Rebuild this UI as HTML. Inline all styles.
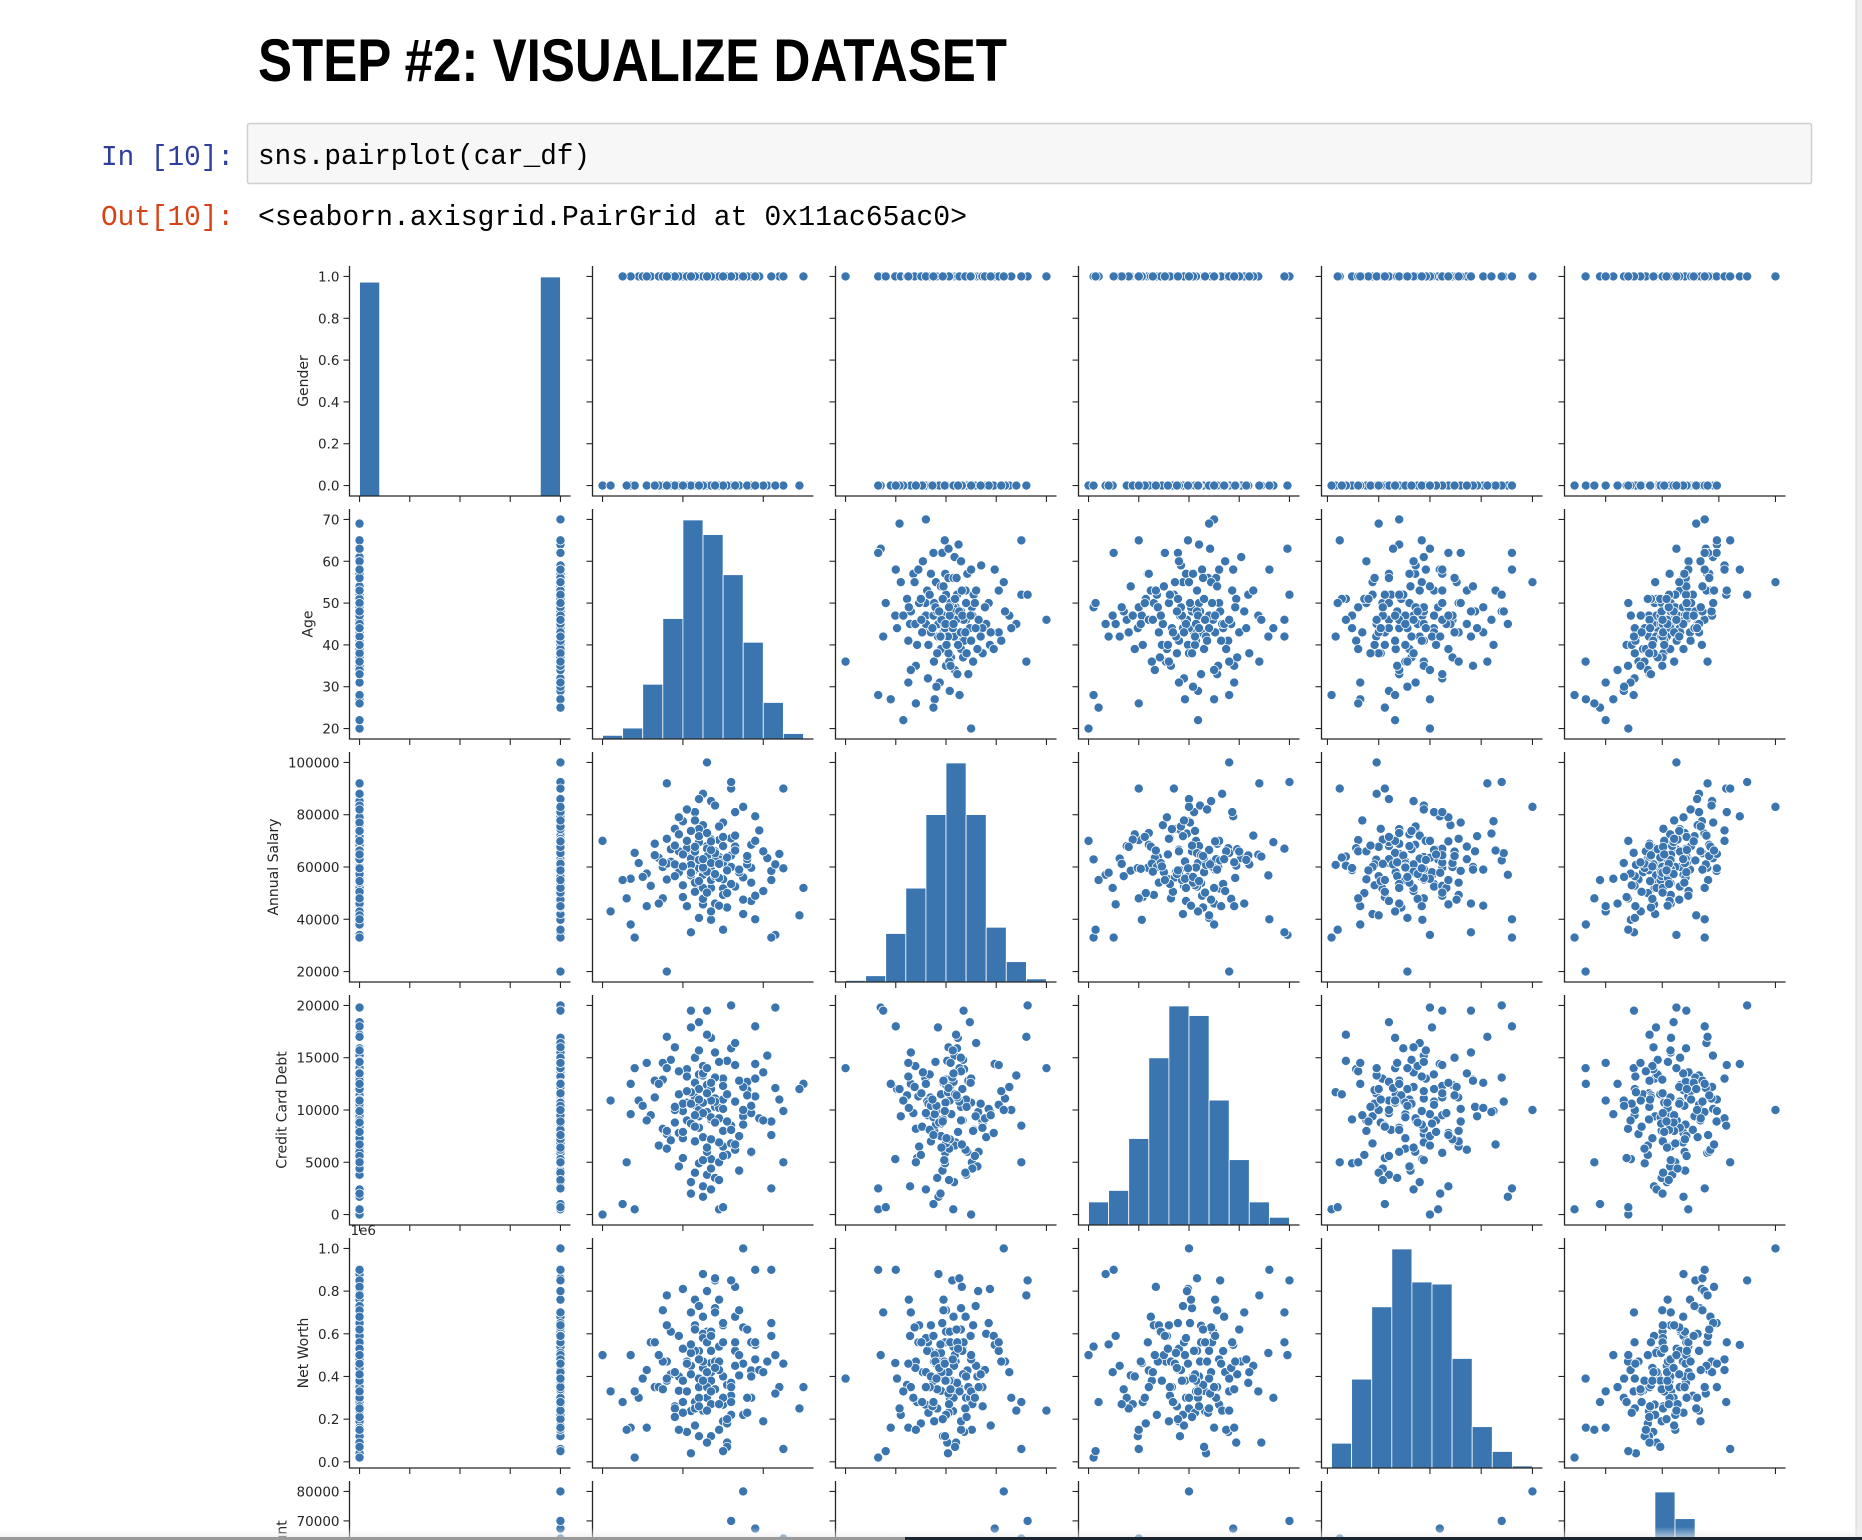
<!DOCTYPE html>
<html><head><meta charset="utf-8"><title>Pairplot</title>
<style>
html,body{margin:0;padding:0;background:#fff;width:1862px;height:1540px;overflow:hidden}
svg{display:block;overflow:hidden}
</style></head>
<body>
<svg id="root" width="1862" height="1540" viewBox="0 0 1862 1540" xmlns="http://www.w3.org/2000/svg">
<defs><linearGradient id="fade" x1="0" y1="0" x2="0" y2="1"><stop offset="0" stop-color="#ffffff" stop-opacity="0"/><stop offset="1" stop-color="#e9e9e9" stop-opacity="0.6"/></linearGradient></defs>
<text x="258" y="81" font-family="'Liberation Sans',sans-serif" font-weight="bold" font-size="60" textLength="749" lengthAdjust="spacingAndGlyphs" fill="#000">STEP #2: VISUALIZE DATASET</text>
<text x="101" y="165" font-family="'Liberation Mono',monospace" font-size="29" textLength="133" lengthAdjust="spacingAndGlyphs" fill="#303f9f">In [10]:</text>
<rect x="247.5" y="123.5" width="1564" height="60" rx="2" fill="#f7f7f7" stroke="#cfcfcf" stroke-width="1.5"/>
<text x="258" y="164" font-family="'Liberation Mono',monospace" font-size="29" textLength="332" lengthAdjust="spacingAndGlyphs" fill="#000">sns.pairplot(car_df)</text>
<text x="101" y="225" font-family="'Liberation Mono',monospace" font-size="29" textLength="133" lengthAdjust="spacingAndGlyphs" fill="#d84315">Out[10]:</text>
<text x="258" y="225" font-family="'Liberation Mono',monospace" font-size="29" textLength="709" lengthAdjust="spacingAndGlyphs" fill="#000">&lt;seaborn.axisgrid.PairGrid at 0x11ac65ac0&gt;</text>
<g id="grid"></g>
<rect x="1856" y="0" width="6" height="1540" fill="#ececec"/>
<line x1="1856" y1="0" x2="1856" y2="1540" stroke="#d5d5d5" stroke-width="1"/>
<rect x="0" y="1527" width="1862" height="10" fill="url(#fade)"/>
<rect x="0" y="1537" width="905" height="3" fill="#9a9a9a"/>
<rect x="905" y="1537" width="957" height="3" fill="#1c2630"/>
</svg>
<script>
const varNames = ['Gender','Age','Annual Salary','Credit Card Debt','Net Worth','Car Purchase Amount'];
const gender = [0,0,1,1,1,0,1,1,0,0,
1,0,1,0,1,0,1,0,1,0, 1,0,1,0,1,0,1,0,1,0, 1,0,1,0,1,0,1,0,1,0, 1,0,1,0,1,0,1,0,1,0,
1,0,1,0,1,0,1,0,1,0, 1,0,1,0,1,0,1,0,1,0, 1,0,1,0,1,0,1,0,1,0, 1,0,1,0,1,0,1,0,1,0,
1,0,1,0,1,0,1,0,1,0, 1,0,1,0,1,0,1,0,1,0, 1,0,1,0,1,0,1,0,1,0, 1,0,1,0,1,0,1,0,1,0,
1,0,1,0,1,0,1,0,1,0, 1,0,1,0,1,0,1,0,1,0,
1,0,1,1,1,0,1,0,0,1, 0,1,0,1,0,1,0,1,0,1];
const age = [42,41,43,58,57,57,47,50,39,44, 46,52,36,48,54,33,45,61,38,50, 29,47,55,42,49,40,64,51,35,46,
43,53,47,37,59,44,52,45,41,49, 32,56,48,39,43,50,46,28,53,47, 42,60,38,45,51,44,49,35,55,40,
46,52,43,48,37,57,44,50,41,47, 62,45,34,49,53,42,47,39,56,31, 46,51,44,48,40,54,43,47,58,36,
45,50,42,63,27,46,48,41,52,44, 39,57,47,34,50,45,53,43,48,60, 38,46,55,42,44,49,36,51,45,40,
58,47,43,54,49,33,46,44,52,38, 62,47,41,50,45,56,43,48,35,53, 46,42,49,65,30,45,51,40,47,44,
55,20,70,46,36,22,25,69,27,31, 63,52,28,42,58,65,36,62,26,50];
const salaryK = [62.8,66.6,53.8,79.4,59.7,68.5,39.8,51.8,58.0,53.5, 62.1,71.0,55.2,66.0,58.6,68.9,45.7,63.4,74.6,49.3,
61.5,85.2,42.0,56.8,70.3,77.5,65.0,60.5,48.0,68.0, 59.0,52.5,64.7,62.0,74.0,40.5,90.0,57.0,67.2,63.8,
52.8,61.0,46.0,72.5,81.0,55.3,60.0,65.4,67.8,58.8, 63.2,50.8,56.5,76.0,44.5,69.5,62.9,60.0,56.0,48.5,
72.8,64.4,54.0,83.5,66.8,47.0,59.6,61.7,70.0,52.0, 58.5,88.0,63.5,45.2,72.0,60.8,55.0,79.0,63.0,57.5,
67.0,50.0,74.5,62.5,53.0,58.0,65.9,70.5,49.0,61.3, 47.8,77.0,58.0,61.0,55.5,64.0,56.5,82.0,60.0,71.8,
66.0,54.0,61.5,46.0,68.0,59.3,81.0,50.5,65.3,66.0, 61.0,73.0,47.5,57.8,86.0,55.8,70.8,63.6,52.0,60.2,
70.0,43.0,67.7,59.0,75.5,64.5,58.2,62.7,53.5,68.2, 55.0,66.5,45.0,71.5,59.8,64.2,77.8,57.3,61.8,66.3,
50.2,73.8,61.2,59.5,56.2,63.0,58.7,64.8,69.8,54.6, 83.0,70.0,52.0,100.0,20.0,43.0,55.0,41.5,38.0,45.0,
34.0,92.5,33.0,35.0,40.0,90.0,92.0,33.0,48.0,36.0];
const debtK = [11.6,9.0,11.2,14.4,5.9,6.0,5.3,13.0,11.5,13.4, 9.6,8.1,7.7,10.3,4.2,12.8,2.7,15.2,8.8,6.5,
10.9,12.2,9.4,17.9,5.0,9.9,11.0,14.7,8.2,3.8, 12.6,10.8,16.9,7.1,9.2,12.0,8.5,1.7,13.9,6.9,
9.5,11.9,15.5,4.6,10.5,8.0,12.4,14.0,6.2,9.1, 3.1,13.6,10.0,7.4,11.4,18.4,0.5,12.9,8.6,5.4,
9.8,15.9,7.0,11.1,14.8,9.7,4.9,12.3,10.7,2.4, 8.9,13.3,6.6,10.2,16.4,11.7,9.3,7.8,12.7,9.0,
19.5,5.7,8.3,13.1,10.6,7.5,15.0,4.4,11.3,6.3, 14.2,10.1,8.7,12.1,9.6,17.2,3.5,11.8,6.8,9.4,
13.7,10.4,7.2,12.5,11.0,5.2,14.3,8.4,10.8,9.0, 16.0,6.0,12.2,2.0,10.0,14.6,8.0,11.5,9.7,7.3,
13.0,10.9,4.0,12.8,9.2,11.2,6.4,15.7,8.1,10.3, 7.6,12.0,13.2,5.6,10.7,11.4,9.5,8.8,14.5,6.7,
11.6,10.6,3.3,9.9,10.4,13.5,8.9,7.9,12.6,11.0, 10.0,0.0,12.5,14.0,14.0,10.9,1.0,12.0,12.5,14.5,
19.8,20.0,0.5,19.5,18.0,5.0,17.0,2.5,5.0,0.7];
const netWorthK = [238,530,638,548,560,428,463,268,333,519, 380,310,470,720,405,350,590,470,260,640,
300,420,220,510,150,810,350,90,470,300, 760,520,330,610,430,390,280,880,140,470,
560,230,700,400,520,190,610,330,680,120, 450,420,250,600,360,300,540,710,460,280,
800,370,640,470,410,300,120,560,330,420, 650,240,500,760,450,40,380,590,300,430,
560,180,350,850,230,500,620,270,560,380, 440,650,510,320,500,90,340,470,220,730,
150,400,610,350,400,470,560,280,860,190, 420,350,630,550,300,470,640,70,580,380,
480,330,250,710,430,560,420,480,350,210, 590,520,460,300,380,620,170,440,340,820,
560,410,270,460,390,680,200,530,590,260, 1000,500,350,240,390,330,280,250,160,160,
500,850,20,700,900,60,780,900,150,50];
const carK = [35.3,45.1,42.9,67.4,55.9,56.6,28.9,37.3,33.2,38.3, 42.5,50.8,31.6,53.3,48.1,35.5,37.1,57.9,40.4,43.0,
26.4,57.6,37.5,37.8,44.6,54.0,59.3,38.0,27.9,43.5, 49.8,46.2,43.1,40.1,62.0,30.3,62.6,47.5,36.8,47.3,
30.2,47.5,43.0,42.8,53.0,39.8,46.4,29.9,57.0,35.3, 41.6,49.3,30.3,52.5,36.0,44.0,49.2,40.0,48.2,27.4,
54.9,48.4,40.2,57.4,38.4,42.6,33.8,48.7,40.7,38.0, 59.2,53.0,34.9,41.9,55.6,30.7,39.4,47.5,48.3,28.8,
48.5,34.9,46.2,51.7,29.2,48.5,46.3,45.4,49.2,33.7, 36.5,58.0,39.6,55.4,22.7,35.5,39.8,50.0,44.6,51.4,
34.2,47.8,48.0,24.2,50.2,43.0,62.8,32.7,54.2,53.5, 36.9,47.9,46.0,40.1,52.3,42.0,44.2,39.3,40.2,36.5,
62.0,32.4,40.3,54.2,53.6,36.0,41.7,42.9,42.4,35.4, 56.2,48.7,30.5,48.6,41.8,56.6,44.2,44.0,32.3,58.3,
40.1,46.0,42.3,59.3,26.5,47.4,41.5,40.7,51.1,35.7, 80.0,28.0,55.0,45.0,12.9,20.0,18.0,52.0,13.0,20.0,
45.0,70.0,9.0,30.0,55.0,64.0,56.0,55.0,16.0,28.0];
const genderHist = [247,0,0,0,0,0,0,0,0,253];
const ageHist = [2,6,30,66,120,112,90,53,20,3];
const salaryHist = [1,4,31,60,107,140,107,35,13,2];
const debtHist = [12,18,45,87,114,109,65,34,12,4];
const netWorthHist = [12,43,78,106,90,89,53,20,8,1];
const carHist = [4,20,60,90,123,108,60,25,8,2];
const genderTicksY = [0,0.2,0.4,0.6,0.8,1.0];
const genderLabelsY = ['0.0','0.2','0.4','0.6','0.8','1.0'];
const ageTicksY = [20,30,40,50,60,70];
const ageLabelsY = ['20','30','40','50','60','70'];
const salaryTicksY = [20000,40000,60000,80000,100000];
const salaryLabelsY = ['20000','40000','60000','80000','100000'];
const debtTicksY = [0,5000,10000,15000,20000];
const debtLabelsY = ['0','5000','10000','15000','20000'];
const netWorthTicksY = [0,200000,400000,600000,800000,1000000];
const netWorthLabelsY = ['0.0','0.2','0.4','0.6','0.8','1.0'];
const carTicksY = [10000,20000,30000,40000,50000,60000,70000,80000];
const carLabelsY = ['10000','20000','30000','40000','50000','60000','70000','80000'];
const genderTicksX = [0,0.25,0.5,0.75,1];
const ageTicksX = [20,40,60];
const salaryTicksX = [20000,40000,60000,80000,100000];
const debtTicksX = [0,5000,10000,15000,20000];
const netWorthTicksX = [0,250000,500000,750000,1000000];
const carTicksX = [20000,40000,60000,80000];

(function(){
  const NS='http://www.w3.org/2000/svg';
  const grid=document.getElementById('grid');
  const units=[1,1,1000,1000,1000,1000];
  const raw=[gender,age,salaryK,debtK,netWorthK,carK];
  const cols=raw.map((a,k)=>a.map(v=>v*units[k]));
  const hists=[genderHist,ageHist,salaryHist,debtHist,netWorthHist,carHist];
  const ticksY=[genderTicksY,ageTicksY,salaryTicksY,debtTicksY,netWorthTicksY,carTicksY];
  const labelsY=[genderLabelsY,ageLabelsY,salaryLabelsY,debtLabelsY,netWorthLabelsY,carLabelsY];
  const ticksX=[genderTicksX,ageTicksX,salaryTicksX,debtTicksX,netWorthTicksX,carTicksX];
  const C='#3a75af', AX='#262626', FONT="'DejaVu Sans','Liberation Sans',sans-serif";
  const X0=349.5, Y0=266, STEP=243, W=221, H=230;
  const lims=cols.map(a=>{let mn=Math.min(...a),mx=Math.max(...a),p=(mx-mn)*0.05;return [mn-p,mx+p,mn,mx];});
  function sx(k,i,v){const l=lims[k];return X0+STEP*i+(v-l[0])/(l[1]-l[0])*W;}
  function sy(k,j,v){const l=lims[k];return Y0+STEP*j+H-(v-l[0])/(l[1]-l[0])*H;}
  function el(tag,attrs,parent){const e=document.createElementNS(NS,tag);for(const a in attrs)e.setAttribute(a,attrs[a]);(parent||grid).appendChild(e);return e;}
  for(let j=0;j<6;j++){
    for(let i=0;i<6;i++){
      const g=el('g',{});
      
      
      const left=X0+STEP*i, top=Y0+STEP*j;
      if(i===j){
        const h=hists[i], l=lims[i], mx=Math.max(...h), bw=(l[3]-l[2])/h.length;
        h.forEach((c,b)=>{
          if(c<=0)return;
          const xa=sx(i,i,l[2]+b*bw), xb=sx(i,i,l[2]+(b+1)*bw);
          const hh=c/(mx*1.05)*H;
          const r=el('rect',{x:xa,y:top+H-hh,width:xb-xa,height:hh,fill:C,stroke:'#ffffff','stroke-width':0.8},g);
          
          
        });
      } else {
        const xs=cols[i], ys=cols[j];
        for(let n=0;n<xs.length;n++){
          const c=el('circle',{cx:sx(i,i,xs[n]),cy:sy(j,j,ys[n]),r:4.6,fill:C,stroke:'#ffffff','stroke-width':0.8},g);
          
          
        }
      }
      const sp=el('path',{d:'M'+left+' '+top+' V'+(top+H)+' H'+(left+W),fill:'none',stroke:AX,'stroke-width':1.3},g);
      
      
      ticksY[j].forEach(t=>{const y=sy(j,j,t);el('line',{x1:left-6,x2:left,y1:y,y2:y,stroke:AX,'stroke-width':1.1},g);});
      ticksX[i].forEach(t=>{const x=sx(i,i,t);el('line',{x1:x,x2:x,y1:top+H,y2:top+H+6,stroke:AX,'stroke-width':1.1},g);});
    }
    const top=Y0+STEP*j;
    let minLeft=X0;
    ticksY[j].forEach((t,k)=>{
      const y=sy(j,j,t);
      const tx=el('text',{x:X0-10,y:y+5,'text-anchor':'end','font-family':FONT,'font-size':13.5,fill:AX});
      
      
      tx.textContent=labelsY[j][k];
      const w=tx.getComputedTextLength();
      minLeft=Math.min(minLeft,X0-10-w);
    });
    const cx=minLeft-15, cy=top+H/2;
    const lab=el('text',{x:cx,y:cy,'text-anchor':'middle','font-family':FONT,'font-size':14,fill:AX,transform:'rotate(-90 '+cx+' '+cy+')',dy:5});
    
    
    lab.textContent=varNames[j];
  }
  const off=el('text',{x:X0+1,y:Y0+STEP*4-3,'font-family':FONT,'font-size':13.5,fill:AX});
  
  
  off.textContent='1e6';
})();
</script>
</body></html>
